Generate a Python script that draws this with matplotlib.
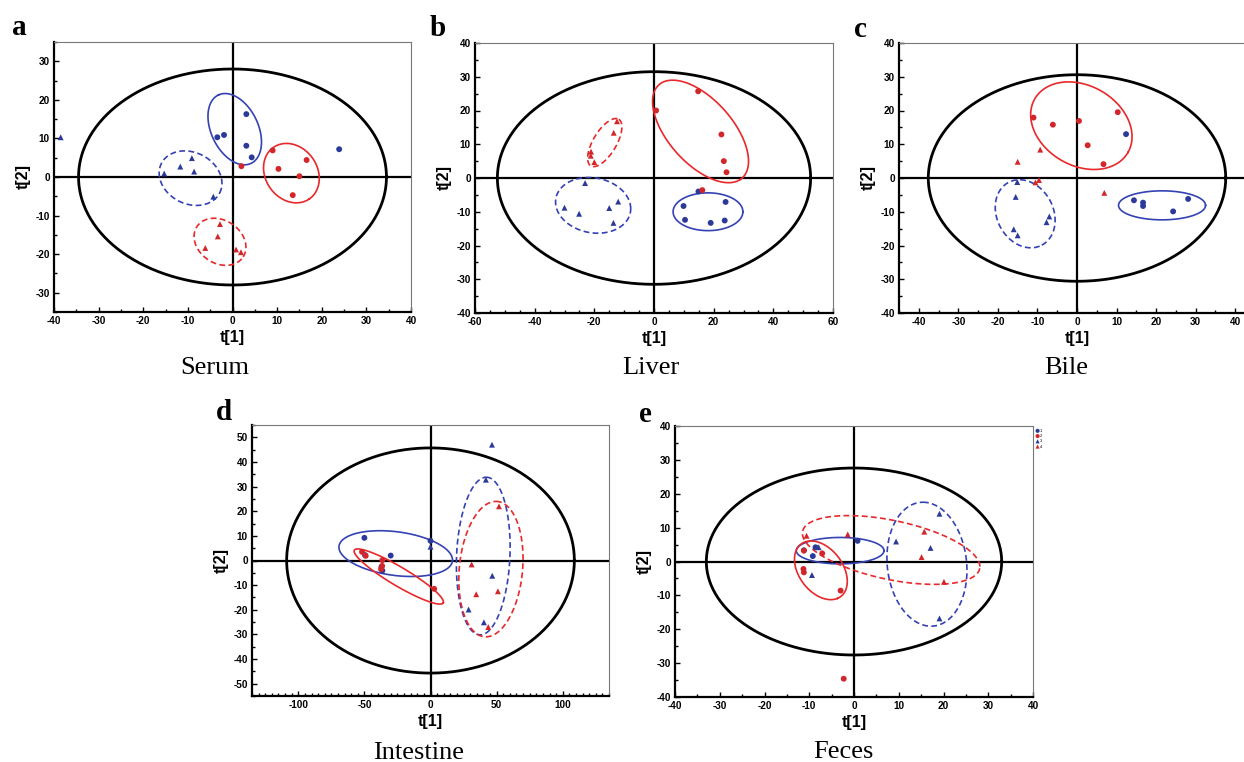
import numpy as np
import matplotlib
matplotlib.use('Agg')
import matplotlib.pyplot as plt
from matplotlib.ticker import MultipleLocator

plt.rcParams['font.family'] = ['Liberation Sans', 'DejaVu Sans']
plt.rcParams['axes.unicode_minus'] = False

# score points: g1 blue circle, g2 red circle,
# g3 blue triangle, g4 red triangle
serum_g1 = [[3.1, 16.3], [-3.4, 10.3], [-1.9, 10.9], [3.1, 8.1], [4.3, 5.1], [23.9, 7.2]]
serum_g2 = [[2.0, 2.8], [9.0, 6.9], [10.3, 2.1], [16.6, 4.4], [15.0, 0.2], [13.5, -4.7]]
serum_g3 = [[-38.5, 10.3], [-9.1, 4.9], [-11.7, 2.7], [-8.6, 1.4], [-15.3, 0.9], [-4.3, -5.1]]
serum_g4 = [[-2.8, -12.2], [-3.3, -15.4], [-6.1, -18.4], [0.8, -18.8], [1.9, -19.5]]

liver_g1 = [[14.9, -4.0], [24.0, -7.1], [9.9, -8.3], [10.4, -12.4], [19.0, -13.3], [23.7, -12.6]]
liver_g2 = [[0.7, 20.0], [14.8, 25.7], [22.6, 12.9], [23.4, 5.0], [24.3, 1.7], [16.2, -3.6]]
liver_g3 = [[-23.1, -1.5], [-12.0, -7.0], [-15.0, -8.9], [-30.0, -8.8], [-25.1, -10.6], [-13.6, -13.3]]
liver_g4 = [[-12.4, 16.8], [-13.5, 13.4], [-21.1, 7.8], [-21.2, 6.6], [-20.0, 4.7]]

bile_g1 = [[12.4, 13.0], [14.4, -6.6], [16.7, -7.3], [16.7, -8.3], [24.3, -9.9], [28.1, -6.2]]
bile_g2 = [[-11.0, 17.9], [-6.1, 15.8], [0.5, 16.9], [10.3, 19.5], [2.7, 9.7], [6.7, 4.1]]
bile_g3 = [[-15.1, -1.2], [-15.5, -5.6], [-7.0, -11.4], [-7.7, -13.1], [-16.0, -15.2], [-15.0, -17.0]]
bile_g4 = [[-15.0, 4.8], [-9.3, 8.4], [-10.5, -1.3], [-9.6, -0.6], [6.9, -4.4]]

intestine_g1 = [[-50.0, 9.2], [-49.5, 2.2], [-30.1, 2.0], [-37.1, -2.6], [-36.4, -4.1], [0.0, 8.0]]
intestine_g2 = [[-51.8, 3.5], [-49.0, 1.9], [-36.4, 0.1], [-36.6, -2.2], [-37.4, -3.5], [2.8, -11.5]]
intestine_g3 = [[46.5, 47.0], [41.9, 32.8], [0.0, 5.6], [46.7, -6.2], [28.8, -19.9], [40.4, -25.1]]
intestine_g4 = [[51.8, 22.0], [31.1, -1.6], [34.6, -13.7], [51.0, -12.5], [43.7, -27.0]]

feces_g1 = [[0.8, 6.1], [-8.6, 4.2], [-11.2, 3.3], [-9.2, 1.6]]
feces_g2 = [[-11.2, 3.2], [-7.1, 2.4], [-11.3, -2.2], [-11.2, -3.2], [-3.0, -8.6], [-2.3, -34.6]]
feces_g3 = [[-7.9, 4.2], [-9.4, -4.0], [9.4, 5.9], [17.1, 4.0], [19.1, 14.1], [19.1, -16.8]]
feces_g4 = [[-10.6, 7.6], [-1.4, 8.0], [15.7, 8.8], [15.1, 1.3], [20.1, -6.0]]

# Hotelling ellipse (semi-axes) and group ellipses: group, centre, two conjugate half-diameters
serum_t2 = [34.5, 28.0]
serum_ell = [[1, 0.5, 12.4, -3.6, 8.9, 4.8, 2.5],
             [2, 13.2, 1.0, 4.0, -6.7, 4.8, 3.8],
             [3, -9.4, -0.3, 6.5, -3.9, 2.7, 5.9],
             [4, -2.8, -16.8, 5.2, -3.9, 2.6, 4.7]]
liver_t2 = [52.5, 31.5]
liver_ell = [[1, 18.1, -10.0, 11.7, 0.0, 0.0, 5.6],
             [2, 15.6, 13.8, 13.4, -14.2, 8.9, 5.4],
             [3, -20.4, -8.1, 12.6, -1.0, 0.0, 8.2],
             [4, -16.5, 10.5, 4.7, 6.9, 3.3, -1.8]]
bile_t2 = [37.6, 30.6]
bile_ell = [[1, 21.5, -8.1, 11.0, 0.0, 0.0, 4.3],
            [2, 1.1, 15.5, 11.8, -7.9, 5.0, 10.3],
            [3, -13.1, -10.6, 4.2, -9.3, 6.3, 3.9]]
intestine_t2 = [108.8, 45.7]
intestine_ell = [[1, -26.3, 2.8, 42.9, -3.0, -2.0, -8.8],
                 [2, -24.0, -6.5, 33.6, -10.7, -3.5, -3.3],
                 [3, 39.9, 1.8, 2.3, 32.0, 20.2, 0.0],
                 [4, 45.7, -3.5, 3.8, 27.5, 24.0, 0.0]]
feces_t2 = [33.0, 27.6]
feces_ell = [[1, -3.1, 3.2, 9.8, 0.0, 0.0, 3.9],
             [2, -7.4, -2.6, 3.7, -8.3, 4.6, 2.5],
             [4, 8.3, 3.4, 19.8, -5.4, -1.1, -8.6],
             [3, 16.3, -0.8, -0.9, 18.3, 8.9, 0.0]]

BLUE = '#2b3a98'
RED = '#d3262b'
EBLUE = '#3442b4'
ERED = '#e8282a'
gstyle = {1: (BLUE, 'o', EBLUE, '-'), 2: (RED, 'o', ERED, '-'),
          3: (BLUE, '^', EBLUE, '--'), 4: (RED, '^', ERED, '--')}

W, H = 1244, 762
fig = plt.figure(figsize=(W / 100, H / 100), dpi=100)


def box(l, r, t, b):
    return [l / W, 1 - b / H, (r - l) / W, (b - t) / H]


def ellipse(ax, c, u, v, color, ls, lw):
    t = np.linspace(0, 2 * np.pi, 400)
    x = c[0] + u[0] * np.cos(t) + v[0] * np.sin(t)
    y = c[1] + u[1] * np.cos(t) + v[1] * np.sin(t)
    line, = ax.plot(x, y, color=color, lw=lw, ls=ls)
    if ls == '--':
        line.set_dashes((3.5, 2))


def panel(pos, pts, t2, ells, xlim, ylim, xmaj, xmin, ymaj, ymin, letter, lxy, title, txy):
    ax = fig.add_axes(box(*pos))
    ax.set_xlim(xlim)
    ax.set_ylim(ylim)
    ax.axhline(0, color='black', lw=1.6, zorder=1)
    ax.axvline(0, color='black', lw=1.6, zorder=1)
    ellipse(ax, (0, 0), (t2[0], 0), (0, t2[1]), 'black', '-', 2.0)
    for e in ells:
        col = gstyle[e[0]][2]
        ellipse(ax, e[1:3], e[3:5], e[5:7], col, gstyle[e[0]][3], 1.2)
    handles = []
    for g, p in enumerate(pts, start=1):
        p = np.array(p)
        col, mk = gstyle[g][0], gstyle[g][1]
        h = ax.scatter(p[:, 0], p[:, 1], s=18, c=col, marker=mk,
                       edgecolors='none', zorder=3, label=str(g))
        handles.append(h)
    ax.xaxis.set_major_locator(MultipleLocator(xmaj))
    ax.xaxis.set_minor_locator(MultipleLocator(xmin))
    ax.yaxis.set_major_locator(MultipleLocator(ymaj))
    ax.yaxis.set_minor_locator(MultipleLocator(ymin))
    ax.tick_params(which='both', direction='in', top=False, right=False, width=1.0,
                   labelsize=7.2, pad=3)
    ax.tick_params(which='major', length=3.5)
    ax.tick_params(which='minor', length=2)
    for lab in ax.get_xticklabels() + ax.get_yticklabels():
        lab.set_fontweight('bold')
    for s in ('left', 'bottom'):
        ax.spines[s].set_linewidth(1.6)
        ax.spines[s].set_color('black')
    for s in ('top', 'right'):
        ax.spines[s].set_linewidth(0.8)
        ax.spines[s].set_color('#777777')
    ax.set_xlabel('t[1]', fontsize=11.5, fontweight='bold', labelpad=3)
    ax.set_ylabel('t[2]', fontsize=11.5, fontweight='bold', labelpad=3)
    fig.text(lxy[0] / W, 1 - lxy[1] / H, letter, family='Liberation Serif',
             fontsize=21, fontweight='bold', ha='center', va='baseline')
    fig.text(txy[0] / W, 1 - txy[1] / H, title, family='Liberation Serif',
             fontsize=19, ha='center', va='baseline')
    return ax, handles


panel((54, 411, 42, 312), [serum_g1, serum_g2, serum_g3, serum_g4], serum_t2, serum_ell,
      (-40, 40), (-35, 35), 10, 5, 10, 5, 'a', (19, 35), 'Serum', (215, 374))
panel((475, 833, 43, 313), [liver_g1, liver_g2, liver_g3, liver_g4], liver_t2, liver_ell,
      (-60, 60), (-40, 40), 20, 5, 10, 5, 'b', (438, 36), 'Liver', (651, 374))
panel((899, 1255, 43, 313), [bile_g1, bile_g2, bile_g3, bile_g4], bile_t2, bile_ell,
      (-45, 45), (-40, 40), 10, 5, 10, 5, 'c', (860, 37), 'Bile', (1066, 374))
panel((252, 609, 425, 696), [intestine_g1, intestine_g2, intestine_g3, intestine_g4],
      intestine_t2, intestine_ell, (-135, 135), (-55, 55), 50, 5, 10, 5,
      'd', (224, 420), 'Intestine', (419, 759))
ax_e, hs = panel((675, 1033, 426, 697), [feces_g1, feces_g2, feces_g3, feces_g4], feces_t2,
                 feces_ell, (-40, 40), (-40, 40), 10, 5, 10, 5, 'e', (645, 422), 'Feces', (843, 758))
ax_e.legend(handles=hs, loc='upper left', bbox_to_anchor=(1.0, 1.0), frameon=False,
            fontsize=3, markerscale=0.7, handletextpad=0.2, labelspacing=0.3,
            borderpad=0.2, handlelength=0.8)

fig.savefig('out.png', dpi=100)
